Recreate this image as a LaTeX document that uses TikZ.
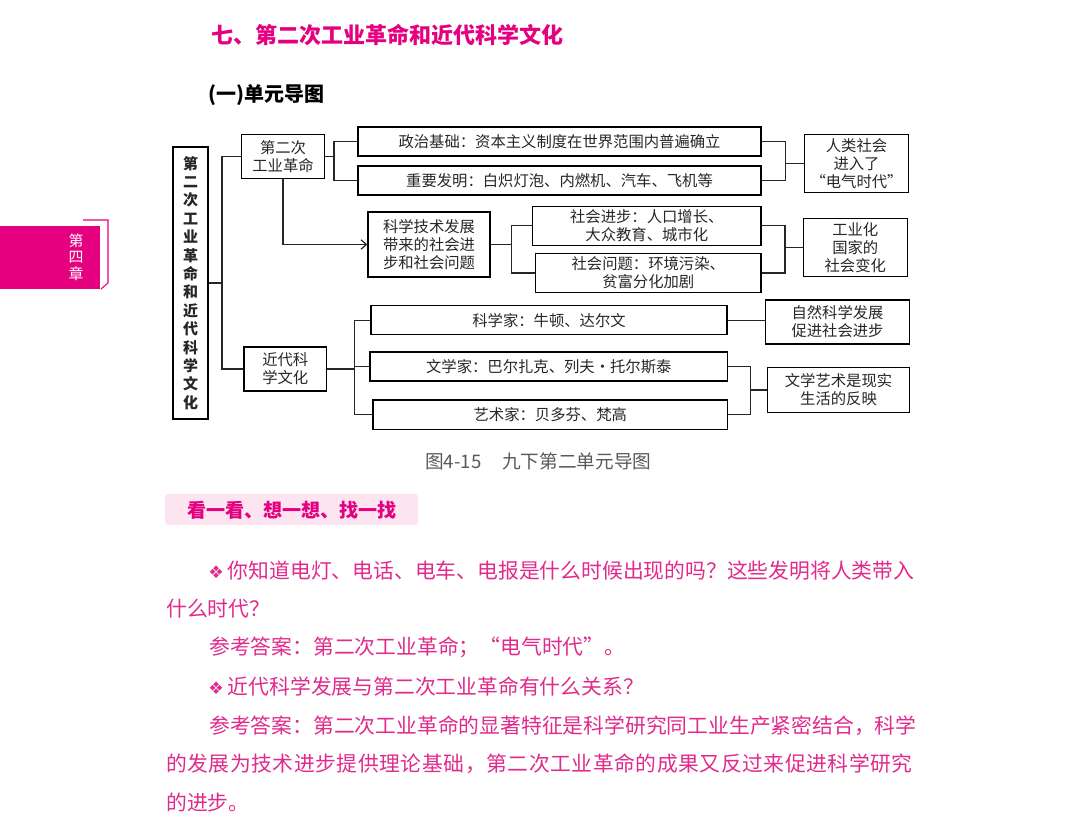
\documentclass[tikz,border=0pt]{standalone}
\usepackage{fontspec}
\setmainfont{Noto Sans CJK SC}
\newfontfamily\dejavu{DejaVu Sans}
\usetikzlibrary{arrows.meta}
\definecolor{mag}{HTML}{E5007F}
\definecolor{bodymag}{HTML}{E02A8C}
\definecolor{bannerbg}{HTML}{FCE5F1}
\newcommand{\diam}{{\dejavu\fontsize{13}{14}\selectfont ❖}\hspace{3pt}}
\begin{document}
\begin{tikzpicture}[x=0.75pt,y=-0.75pt,
  box/.style={draw=black, line width=1pt, inner sep=0pt, align=center,
    font=\fontsize{11.5}{13.5}\selectfont, text=black!85},
  sz/.style 2 args={minimum width=#1*0.75pt, minimum height=#2*0.75pt},
  conn/.style={line width=0.9pt, draw=black!85},
  body/.style={anchor=west, inner sep=0pt, text=bodymag, font=\fontsize{15.6}{18}\selectfont}
]
\useasboundingbox (0,0) rectangle (1080,827);
% title
\node[anchor=west, inner sep=0pt, text=mag, font=\fontsize{16.5}{18}\bfseries\selectfont] (title) at (211,35) {七、第二次工业革命和近代科学文化};
\node[anchor=west, inner sep=0pt, font=\fontsize{15}{17}\bfseries\selectfont] (sub) at (208,95) {(一)单元导图};
% side tab
\fill[mag] (0,226) rectangle (100,289);
\draw[mag, line width=0.8pt] (83,220) -- (108,220) -- (108,283) -- (101,289);
\node[inner sep=0pt, align=center, text=white, font=\fontsize{11.2}{12.3}\selectfont] (tab) at (76,257) {第\\四\\章};
% diagram boxes
\node[box, sz={35}{272}, font=\fontsize{11.25}{13.8}\bfseries\selectfont] (main) at (190.5,283)
  {第\\二\\次\\工\\业\\革\\命\\和\\近\\代\\科\\学\\文\\化};
\node[box, sz={82.6}{44}] (r1) at (283,156.7) {第二次\\工业革命};
\node[box, sz={82.7}{44}] (r2) at (285.3,369) {近代科\\学文化};
\node[box, sz={403}{29}] (p1) at (559.5,141.5) {政治基础：资本主义制度在世界范围内普遍确立};
\node[box, sz={403}{29}] (p2) at (559.5,180.5) {重要发明：白炽灯泡、内燃机、汽车、飞机等};
\node[box, sz={104.4}{58.4}] (q1) at (856.5,163.5) {人类社会\\进入了\\“电气时代”};
\node[box, sz={122}{65}] (s) at (429,244.5) {科学技术发展\\带来的社会进\\步和社会问题};
\node[box, sz={228.3}{39}] (s1) at (646.8,225.8) {社会进步：人口增长、\\大众教育、城市化};
\node[box, sz={225.3}{39.4}] (s2) at (648.3,273) {社会问题：环境污染、\\贫富分化加剧};
\node[box, sz={104}{57.6}] (t) at (855.3,247.5) {工业化\\国家的\\社会变化};
\node[box, sz={356}{29}] (u1) at (549,320.3) {科学家：牛顿、达尔文};
\node[box, sz={357.7}{29}] (u2) at (548.8,366.5) {文学家：巴尔扎克、列夫·托尔斯泰};
\node[box, sz={354.7}{29.3}] (u3) at (550.3,414.7) {艺术家：贝多芬、梵高};
\node[box, sz={143.6}{44.3}] (v1) at (837.5,322) {自然科学发展\\促进社会进步};
\node[box, sz={141.6}{45.4}] (v2) at (838.5,390) {文学艺术是现实\\生活的反映};
% connectors
\coordinate (jA) at (222,283);
\coordinate (jB) at (334,156.7);
\coordinate (jC) at (785.7,163.5);
\coordinate (jD) at (511.7,244.5);
\coordinate (jE) at (785,247.5);
\coordinate (jF) at (354.3,369);
\coordinate (jG) at (750.7,390);
\draw[conn] (main.east) -- (jA);
\draw[conn] (r1.west) -| (jA);
\draw[conn] (r2.west) -| (jA);
\draw[conn] (r1.east) -- (jB);
\draw[conn] (p1.west) -| (jB);
\draw[conn] (p2.west) -| (jB);
\draw[conn] (p1.east) -| (jC);
\draw[conn] (p2.east) -| (jC);
\draw[conn] (jC) -- (q1.west);
\draw[conn, -{Straight Barb[length=4pt,width=7pt]}] (r1.south) |- (s.west);
\draw[conn] (s.east) -- (jD);
\draw[conn] (s1.west) -| (jD);
\draw[conn] (s2.west) -| (jD);
\draw[conn] (s1.east) -| (jE);
\draw[conn] (s2.east) -| (jE);
\draw[conn] (jE) -- (t.west);
\draw[conn] (r2.east) -- (jF);
\draw[conn] (u1.west) -| (jF);
\draw[conn] (u2.west) -| (jF);
\draw[conn] (u3.west) -| (jF);
\draw[conn] (u1.east) -- (v1.west |- u1.east);
\draw[conn] (u2.east) -| (jG);
\draw[conn] (u3.east) -| (jG);
\draw[conn] (jG) -- (v2.west);
% caption
\node[anchor=west, inner sep=0pt, text=black!65, font=\fontsize{14}{15}\selectfont] (cap) at (425,461) {图4-15\hspace{1.1em}九下第二单元导图};
% banner
\node[fill=bannerbg, rounded corners=2pt, inner sep=0pt, minimum width=253*0.75pt, minimum height=31*0.75pt] (banner) at (291.5,509.5) {};
\node[inner sep=0pt, text=mag, font=\fontsize{14.3}{16}\bfseries\selectfont] (bannertext) at (292,510) {看一看、想一想、找一找};
% body text
\node[body] (l1) at (208,571) {\diam 你知道电灯、电话、电车、电报是什么时候出现的吗？这些发明将人类带入};
\node[body] (l2) at (166,609) {什么时代？};
\node[body] (l3) at (209,647) {参考答案：第二次工业革命；“电气时代”。};
\node[body] (l4) at (208,687) {\diam 近代科学发展与第二次工业革命有什么关系？};
\node[body] (l5) at (209,726) {参考答案：第二次工业革命的显著特征是科学研究同工业生产紧密结合，科学};
\node[body] (l6) at (166,764) {\addfontfeature{LetterSpace=2.6}的发展为技术进步提供理论基础，第二次工业革命的成果又反过来促进科学研究};
\node[body] (l7) at (166,802) {的进步。};
\end{tikzpicture}
\end{document}
